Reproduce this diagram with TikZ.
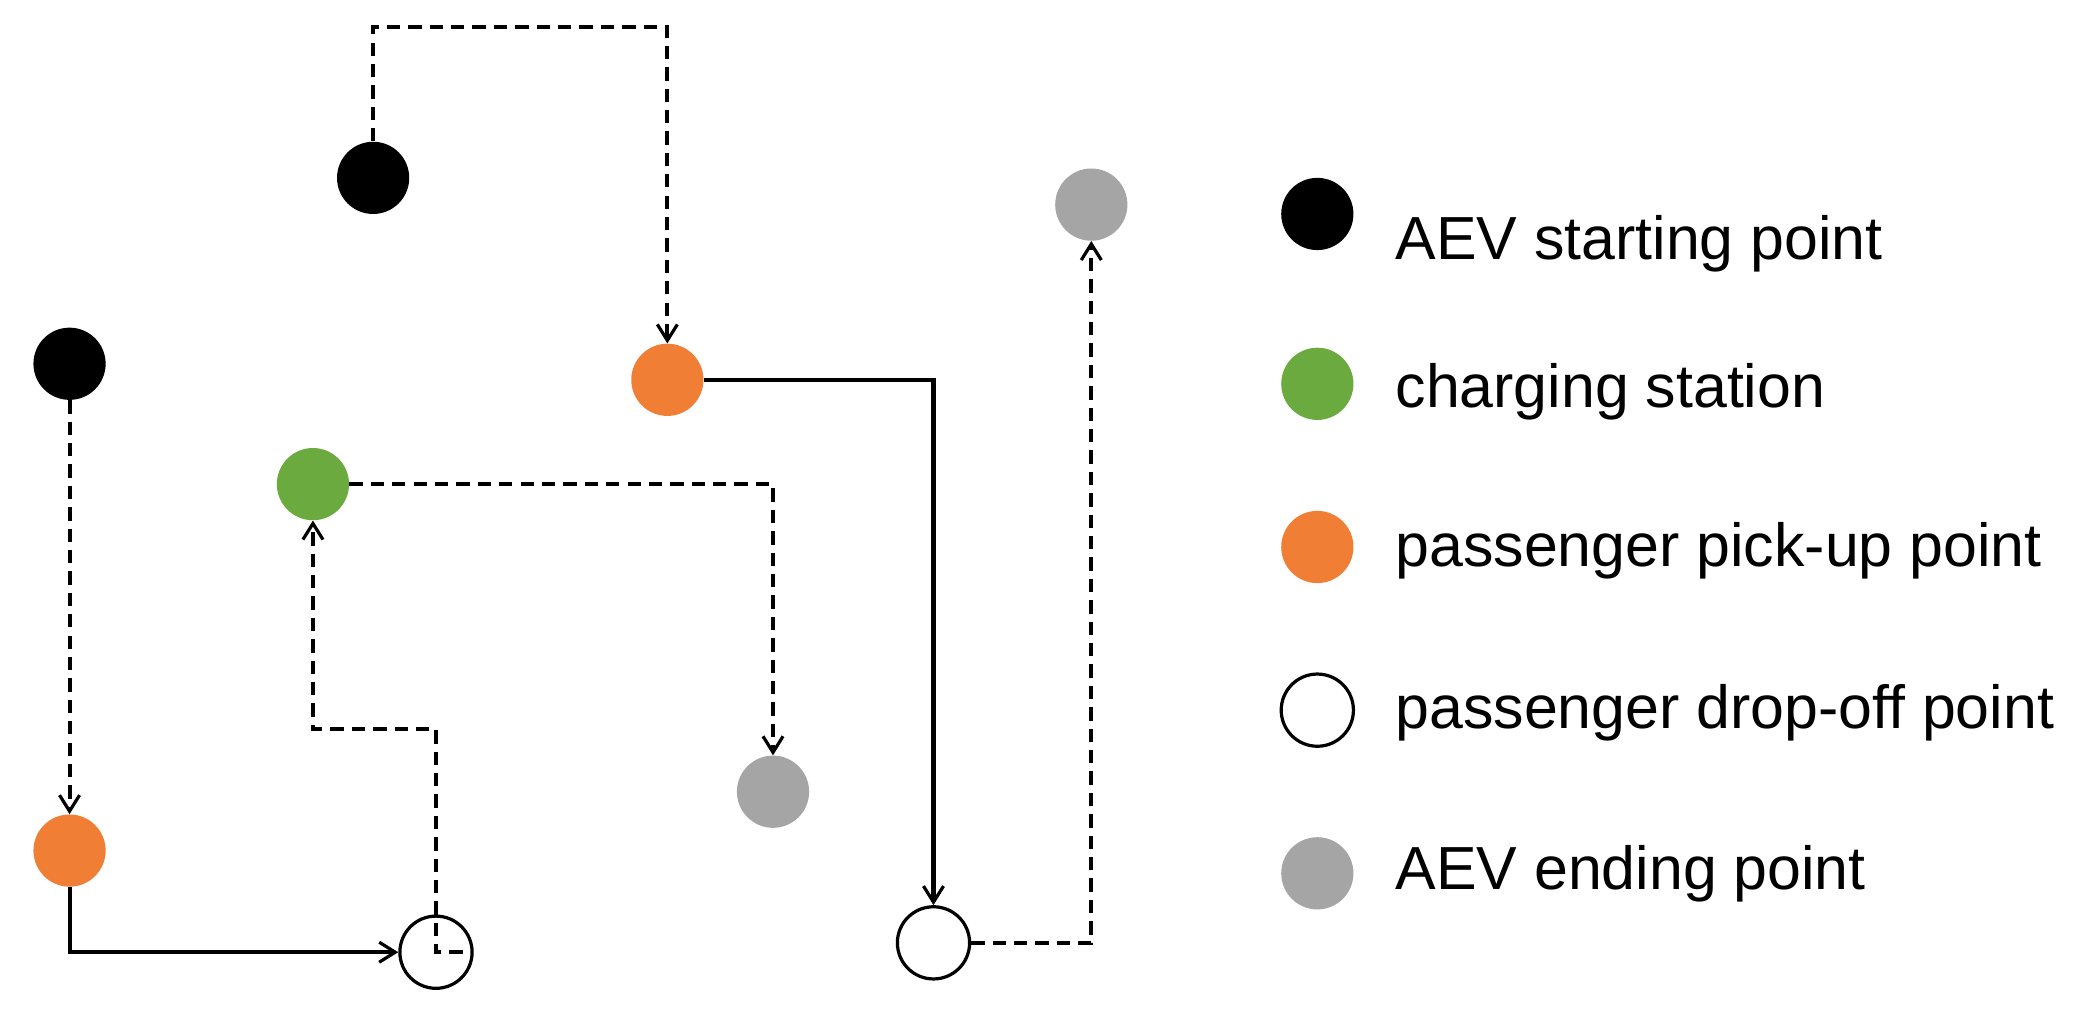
\documentclass[tikz,border=0pt]{standalone}
\usepackage{fontspec}
\setmainfont{Liberation Sans}
\usetikzlibrary{arrows.meta}
\definecolor{cor}{HTML}{F07F35}
\definecolor{cgr}{HTML}{6BAA3F}
\definecolor{cgy}{HTML}{A5A5A5}
\begin{document}
\begin{tikzpicture}[x=1pt,y=-1pt,
  pt/.style={circle,minimum size=54pt,inner sep=0pt},
  blk/.style={pt,fill=black},
  org/.style={pt,fill=cor},
  grn/.style={pt,fill=cgr},
  gry/.style={pt,fill=cgy},
  wht/.style={pt,draw=black,line width=2.4pt,fill=white},
  path/.style={line width=3pt,-{Straight Barb[length=12pt,width=15pt,line width=2.4pt]}},
  dsh/.style={path,dash pattern=on 10pt off 6pt},
  lab/.style={anchor=west,font=\fontsize{45.5}{54}\selectfont}]
\useasboundingbox (0,0) rectangle (1568,759);
\node[blk] (b1) at (279,133) {};
\node[blk] (b2) at (52,272) {};
\node[org] (o1) at (499,284) {};
\node[grn] (g) at (234,362) {};
\node[gry] (y1) at (578,592) {};
\node[org] (o2) at (52,636) {};
\node[wht] (w1) at (326,712) {};
\node[wht] (w2) at (698,705) {};
\node[gry] (y2) at (816,153) {};
\coordinate (w1c) at (326,712);
\coordinate (w1r) at (346,712);
\draw[dsh] (b1.north) |- (499,20) -- (o1.north);
\draw[dsh] (b2.south) -- (o2.north);
\draw[path] (o2.south) |- (w1.west);
\draw[dsh] (w1r) -- (w1c) |- (234,545) -- (g.south);
\draw[dsh] (g.east) -| (y1.north);
\draw[path] (o1.east) -| (w2.north);
\draw[dsh] (w2.east) -| (y2.south);
\node[blk] (lb) at (985,160) {};
\node[grn] (lg) at (985,287) {};
\node[org] (lo) at (985,409) {};
\node[wht] (lw) at (985,531) {};
\node[gry] (ly) at (985,653) {};
\node[lab] (tb) at (1040,182) {AEV starting point};
\node[lab] (tg) at (1040,293) {charging station};
\node[lab] (to) at (1040,412) {passenger pick-up point};
\node[lab] (tw) at (1040,533) {passenger drop-off point};
\node[lab] (ty) at (1040,653) {AEV ending point};
\end{tikzpicture}
\end{document}
